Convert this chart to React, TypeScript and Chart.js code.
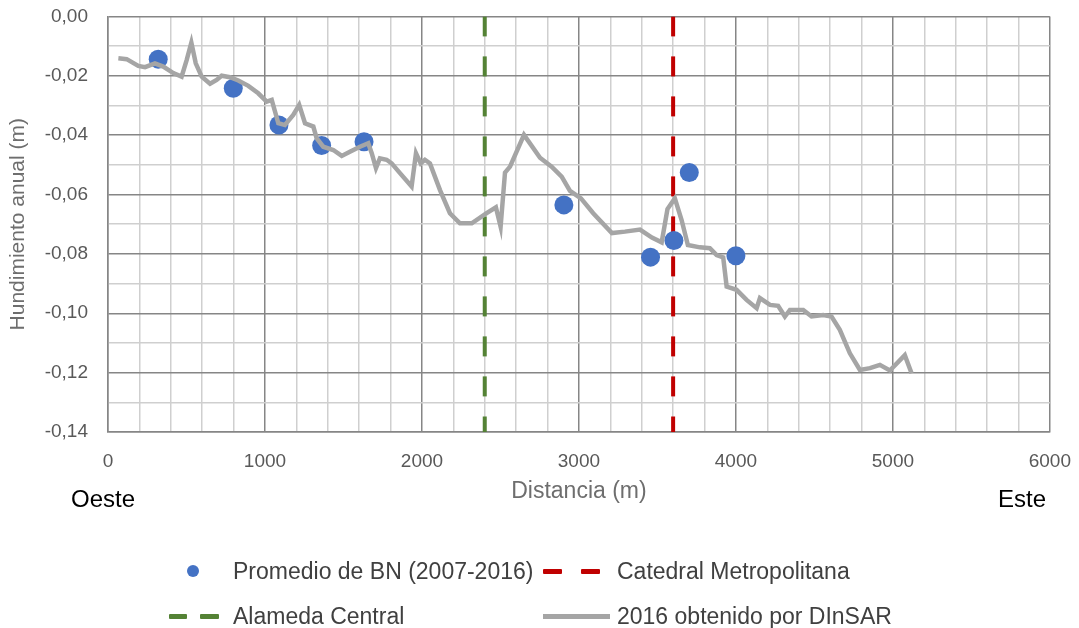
import React, { useEffect, useRef } from 'react';
import { Chart, registerables } from 'chart.js';

Chart.register(...registerables);

// ---- Data ----
const bnX = [320, 798, 1089, 1361, 1631, 2904, 3456, 3605, 3703, 4000];
const bnY = [-0.0144, -0.0242, -0.0366, -0.0435, -0.0422, -0.0635, -0.0811, -0.0755, -0.0526, -0.0806];

const dinsarX = [
  66, 119, 193, 236, 299, 352, 416, 469, 501, 531, 559, 597, 650, 692, 724, 777, 830, 894, 957, 1011,
  1043, 1085, 1127, 1180, 1218, 1255, 1308, 1329, 1371, 1435, 1489, 1541, 1605, 1658, 1680, 1707, 1732, 1775, 1807, 1860,
  1934, 1962, 1992, 2019, 2051, 2115, 2178, 2242, 2317, 2412, 2471, 2501, 2529, 2561, 2650, 2752, 2826, 2890, 2943, 3013,
  3091, 3210, 3293, 3389, 3465, 3527, 3564, 3611, 3654, 3694, 3771, 3834, 3877, 3919, 3941, 4004, 4068, 4132, 4153, 4217,
  4269, 4312, 4344, 4429, 4482, 4556, 4609, 4662, 4726, 4790, 4854, 4917, 4981, 5076, 5119,
];
const dinsarY = [
  -0.0141, -0.0144, -0.0167, -0.0171, -0.0158, -0.0169, -0.0191, -0.0203, -0.0147, -0.0088, -0.0158, -0.0203, -0.0227, -0.0214, -0.0200, -0.0205, -0.0216, -0.0234, -0.0259, -0.0287,
  -0.0281, -0.0360, -0.0366, -0.0332, -0.0298, -0.0360, -0.0371, -0.0410, -0.0439, -0.0450, -0.0470, -0.0456, -0.0439, -0.0427, -0.0461, -0.0511, -0.0478, -0.0483, -0.0495, -0.0528,
  -0.0573, -0.0461, -0.0495, -0.0483, -0.0495, -0.0585, -0.0663, -0.0697, -0.0697, -0.0663, -0.0643, -0.0708, -0.0526, -0.0506, -0.0399, -0.0476, -0.0506, -0.0540, -0.0588, -0.0613,
  -0.0663, -0.0730, -0.0725, -0.0718, -0.0745, -0.0761, -0.0649, -0.0613, -0.0686, -0.0770, -0.0778, -0.0781, -0.0804, -0.0812, -0.0910, -0.0921, -0.0955, -0.0983, -0.0949, -0.0972,
  -0.0975, -0.1011, -0.0989, -0.0989, -0.1011, -0.1006, -0.1011, -0.1056, -0.1135, -0.1191, -0.1185, -0.1174, -0.1193, -0.1141, -0.1202,
];

const alamedaX = 2400;
const catedralX = 3600;

const xMin = 0;
const xMax = 6000;
const xMinorStep = 200;
const xMajorStep = 1000;
const yMin = -0.14;
const yMax = 0;
const yMinorStep = 0.01;
const yMajorStep = 0.02;

const labelBN = 'Promedio de BN (2007-2016)';
const labelCatedral = 'Catedral Metropolitana';
const labelAlameda = 'Alameda Central';
const labelDinsar = '2016 obtenido por DInSAR';
const xTitle = 'Distancia (m)';
const yTitle = 'Hundimiento anual (m)';
const westLabel = 'Oeste';
const eastLabel = 'Este';

const FONT = "'Liberation Sans', Arial, sans-serif";
const BLUE = '#4472C4';
const RED = '#C00000';
const GREEN = '#548235';
const GREY = '#A5A5A5';

const CANVAS_W = 1089;
const CANVAS_H = 643;
const CANVAS_TOP = -15;

const isMultiple = (v: number, step: number) => Math.abs(v / step - Math.round(v / step)) < 1e-6;

export default function App() {
  const canvasRef = useRef<HTMLCanvasElement | null>(null);

  useEffect(() => {
    document.body.style.margin = '0';
    const canvas = canvasRef.current;
    if (!canvas) return;

    const gridColor = (ctx: any, step: number) =>
      ctx.tick && isMultiple(ctx.tick.value, step) ? '#868686' : '#CFCFCF';

    const chart = new Chart(canvas, {
      type: 'scatter',
      data: {
        datasets: [
          {
            label: labelDinsar,
            data: dinsarX.map((x, i) => ({ x, y: dinsarY[i] })),
            showLine: true,
            borderColor: GREY,
            backgroundColor: GREY,
            borderWidth: 4.5,
            pointRadius: 0,
            tension: 0,
            order: 1,
          },
          {
            label: labelBN,
            data: bnX.map((x, i) => ({ x, y: bnY[i] })),
            showLine: false,
            backgroundColor: BLUE,
            borderColor: BLUE,
            pointRadius: 9.5,
            pointBorderWidth: 0,
            order: 2,
          },
          {
            label: labelCatedral,
            data: [
              { x: catedralX, y: yMax },
              { x: catedralX, y: yMin },
            ],
            showLine: true,
            borderColor: RED,
            borderWidth: 4,
            borderDash: [20, 20],
            pointRadius: 0,
            order: 3,
          },
          {
            label: labelAlameda,
            data: [
              { x: alamedaX, y: yMax },
              { x: alamedaX, y: yMin },
            ],
            showLine: true,
            borderColor: GREEN,
            borderWidth: 4,
            borderDash: [20, 20],
            pointRadius: 0,
            order: 4,
          },
        ],
      },
      options: {
        animation: false,
        responsive: false,
        maintainAspectRatio: false,
        layout: { padding: { top: 5, right: 8, bottom: 123, left: 0 } },
        plugins: {
          legend: { display: false },
          tooltip: { enabled: false },
          title: { display: false },
        },
        scales: {
          x: {
            type: 'linear',
            min: xMin,
            max: xMax,
            afterFit: (s: any) => {
              s.height = 73;
            },
            ticks: {
              stepSize: xMinorStep,
              autoSkip: false,
              maxRotation: 0,
              minRotation: 0,
              padding: 18,
              color: '#595959',
              font: { family: FONT, size: 19 },
              callback: (v: any) => (isMultiple(Number(v), xMajorStep) ? String(Math.round(Number(v))) : ''),
            },
            grid: {
              drawTicks: false,
              color: (ctx: any) => gridColor(ctx, xMajorStep),
              lineWidth: 1.5,
            },
            border: { display: true, color: '#868686', width: 1.5 },
            title: {
              display: true,
              text: xTitle,
              color: '#6E6E6E',
              font: { family: FONT, size: 23 },
              padding: { top: 0, bottom: 0 },
            },
          },
          y: {
            type: 'linear',
            min: yMin,
            max: yMax,
            afterFit: (s: any) => {
              s.width = 108;
            },
            ticks: {
              stepSize: yMinorStep,
              autoSkip: false,
              padding: 20,
              color: '#595959',
              font: { family: FONT, size: 19 },
              callback: (v: any) =>
                isMultiple(Number(v), yMajorStep) ? Number(v).toFixed(2).replace('.', ',') : '',
            },
            grid: {
              drawTicks: false,
              color: (ctx: any) => gridColor(ctx, yMajorStep),
              lineWidth: 1.5,
            },
            border: { display: true, color: '#868686', width: 1.5 },
            title: {
              display: true,
              text: yTitle,
              color: '#6E6E6E',
              font: { family: FONT, size: 21 },
              padding: { top: 6, bottom: 0 },
            },
          },
        },
      },
    });

    return () => {
      chart.destroy();
    };
  }, []);

  const legendText: React.CSSProperties = {
    position: 'absolute',
    fontFamily: FONT,
    fontSize: 23,
    lineHeight: '28px',
    color: '#404040',
    whiteSpace: 'nowrap',
  };
  const dash = (left: number, top: number, width: number, color: string): React.CSSProperties => ({
    position: 'absolute',
    left,
    top,
    width,
    height: 5,
    background: color,
    borderRadius: 1,
  });

  return (
    <div style={{ position: 'absolute', left: 0, top: 0, width: 1079, height: 628, background: '#fff', overflow: 'hidden' }}>
      <canvas
        ref={canvasRef}
        width={CANVAS_W}
        height={CANVAS_H}
        style={{ position: 'absolute', left: 0, top: CANVAS_TOP, width: CANVAS_W, height: CANVAS_H }}
      />
      <div style={{ position: 'absolute', left: 71, top: 484, fontFamily: FONT, fontSize: 24, lineHeight: '30px', color: '#000' }}>{westLabel}</div>
      <div style={{ position: 'absolute', right: 1079 - 1046, top: 484, fontFamily: FONT, fontSize: 24, lineHeight: '30px', color: '#000' }}>{eastLabel}</div>

      {/* Legend row 1 */}
      <div style={{ position: 'absolute', left: 187, top: 565, width: 12, height: 12, borderRadius: '50%', background: BLUE }} />
      <div style={{ ...legendText, left: 233, top: 557 }}>{labelBN}</div>
      <div style={dash(543, 569, 19, RED)} />
      <div style={dash(581, 569, 19, RED)} />
      <div style={{ ...legendText, left: 617, top: 557 }}>{labelCatedral}</div>

      {/* Legend row 2 */}
      <div style={dash(169, 614, 18, GREEN)} />
      <div style={dash(200, 614, 19, GREEN)} />
      <div style={{ ...legendText, left: 233, top: 602 }}>{labelAlameda}</div>
      <div style={{ position: 'absolute', left: 543, top: 614, width: 67, height: 5, background: GREY }} />
      <div style={{ ...legendText, left: 617, top: 602 }}>{labelDinsar}</div>
    </div>
  );
}
